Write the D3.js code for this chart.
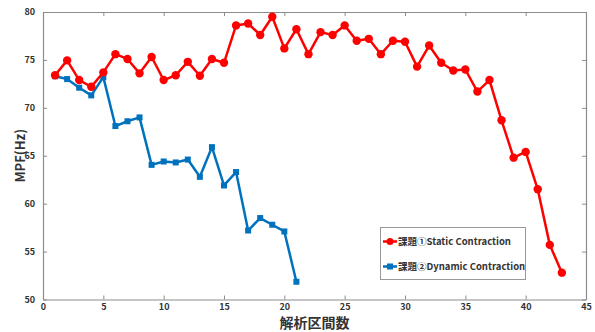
<!DOCTYPE html>
<html>
<head>
<meta charset="utf-8">
<script src="https://cdn.jsdelivr.net/npm/d3@7"></script>
<style>
  html, body { margin: 0; padding: 0; background: #fff; }
  svg { display: block; }
  text { font-family: "Noto Sans CJK JP", "DejaVu Sans", sans-serif; }
</style>
</head>
<body>
<svg id="chart" width="595" height="332"></svg>
<script>
// MPF per analysis interval for the two tasks
const staticX = d3.range(1, 44);
const staticMPF = [73.4, 74.95, 72.9, 72.2, 73.7, 75.6, 75.1, 73.6, 75.3, 72.9,
  73.4, 74.8, 73.35, 75.1, 74.7, 78.6, 78.8, 77.6, 79.5, 76.2,
  78.2, 75.6, 77.9, 77.6, 78.6, 77.0, 77.2, 75.6, 77.0, 76.9,
  74.3, 76.5, 74.7, 73.9, 74.0, 71.7, 72.9, 68.7, 64.8, 65.4,
  61.5, 55.7, 52.8];
const dynamicX = d3.range(1, 22);
const dynamicMPF = [73.3, 73.0, 72.1, 71.3, 73.2, 68.1, 68.6, 69.0, 64.05, 64.4,
  64.3, 64.6, 62.8, 65.9, 61.9, 63.3, 57.2, 58.5, 57.8, 57.1, 51.85];
const xTicks = [0, 5, 10, 15, 20, 25, 30, 35, 40, 45];
const yTicks = [50, 55, 60, 65, 70, 75, 80];
const legendLabels = ["課題①Static Contraction", "課題②Dynamic Contraction"];
const xTitle = "解析区間数";
const yTitle = "MPF(Hz)";

const svg = d3.select("#chart");
const plotLeft = 43, plotRight = 586, plotTop = 12, plotBottom = 299.5;
const x = d3.scaleLinear().domain([0, 45]).range([plotLeft, plotRight]);
const y = d3.scaleLinear().domain([50, 80]).range([plotBottom, plotTop]);
const axisColor = "#8c8c8c";
const red = "#ff0000", blue = "#0072bd";

// box with inward ticks on all four sides
const gx = svg.append("g").attr("transform", `translate(0,${plotBottom})`)
  .call(d3.axisBottom(x).tickValues(xTicks).tickSize(-4).tickPadding(4).tickSizeOuter(0));
const gxTop = svg.append("g").attr("transform", `translate(0,${plotTop})`)
  .call(d3.axisTop(x).tickValues(xTicks).tickSize(-4).tickFormat("").tickSizeOuter(0));
const gy = svg.append("g").attr("transform", `translate(${plotLeft},0)`)
  .call(d3.axisLeft(y).tickValues(yTicks).tickSize(-4).tickPadding(8).tickSizeOuter(0));
const gyR = svg.append("g").attr("transform", `translate(${plotRight},0)`)
  .call(d3.axisRight(y).tickValues(yTicks).tickSize(-4).tickFormat("").tickSizeOuter(0));
[gx, gxTop, gy, gyR].forEach(g => {
  g.selectAll(".domain").attr("stroke", axisColor).attr("stroke-width", 1.2);
  g.selectAll(".tick line").attr("stroke", axisColor);
  g.selectAll("text").attr("fill", "#333").attr("font-size", 9)
    .attr("font-weight", "bold").attr("font-family", "DejaVu Sans, sans-serif");
});

// axis titles
svg.append("text").attr("x", (plotLeft + plotRight) / 2).attr("y", 327.5)
  .attr("text-anchor", "middle").attr("font-size", 14).attr("font-weight", "bold")
  .attr("fill", "#333").text(xTitle);
svg.append("text").attr("transform", `translate(25,${(plotTop + plotBottom) / 2}) rotate(-90)`)
  .attr("text-anchor", "middle").attr("font-size", 13).attr("font-weight", "bold")
  .attr("fill", "#333").attr("font-family", "DejaVu Sans, sans-serif").text(yTitle);

const line = d3.line().x(d => x(d[0])).y(d => y(d[1]));
const dyn = dynamicX.map((v, i) => [v, dynamicMPF[i]]);
const sta = staticX.map((v, i) => [v, staticMPF[i]]);

// dynamic contraction series (squares)
svg.append("path").datum(dyn).attr("d", line).attr("fill", "none")
  .attr("stroke", blue).attr("stroke-width", 2.5).attr("stroke-linejoin", "round");
svg.append("g").selectAll("rect").data(dyn).join("rect")
  .attr("x", d => x(d[0]) - 3).attr("y", d => y(d[1]) - 3)
  .attr("width", 6).attr("height", 6).attr("fill", blue);

// static contraction series (circles)
svg.append("path").datum(sta).attr("d", line).attr("fill", "none")
  .attr("stroke", red).attr("stroke-width", 2.5).attr("stroke-linejoin", "round");
svg.append("g").selectAll("circle").data(sta).join("circle")
  .attr("cx", d => x(d[0])).attr("cy", d => y(d[1])).attr("r", 4.2).attr("fill", red);

// legend
const lg = svg.append("g");
lg.append("rect").attr("x", 380.5).attr("y", 227.5).attr("width", 145).attr("height", 52)
  .attr("fill", "#fff").attr("stroke", "#999").attr("stroke-width", 1);
[[red, "circle"], [blue, "square"]].forEach(([c, m], i) => {
  const yy = 241.5 + i * 25;
  lg.append("line").attr("x1", 383).attr("x2", 397).attr("y1", yy).attr("y2", yy)
    .attr("stroke", c).attr("stroke-width", 2.5);
  if (m === "circle") lg.append("circle").attr("cx", 390).attr("cy", yy).attr("r", 3.5).attr("fill", c);
  else lg.append("rect").attr("x", 387).attr("y", yy - 3).attr("width", 6).attr("height", 6).attr("fill", c);
  lg.append("text").attr("x", 398).attr("y", yy + 3.5).attr("font-size", 9.5)
    .attr("font-weight", "bold").attr("fill", "#333").text(legendLabels[i]);
});
</script>
</body>
</html>
